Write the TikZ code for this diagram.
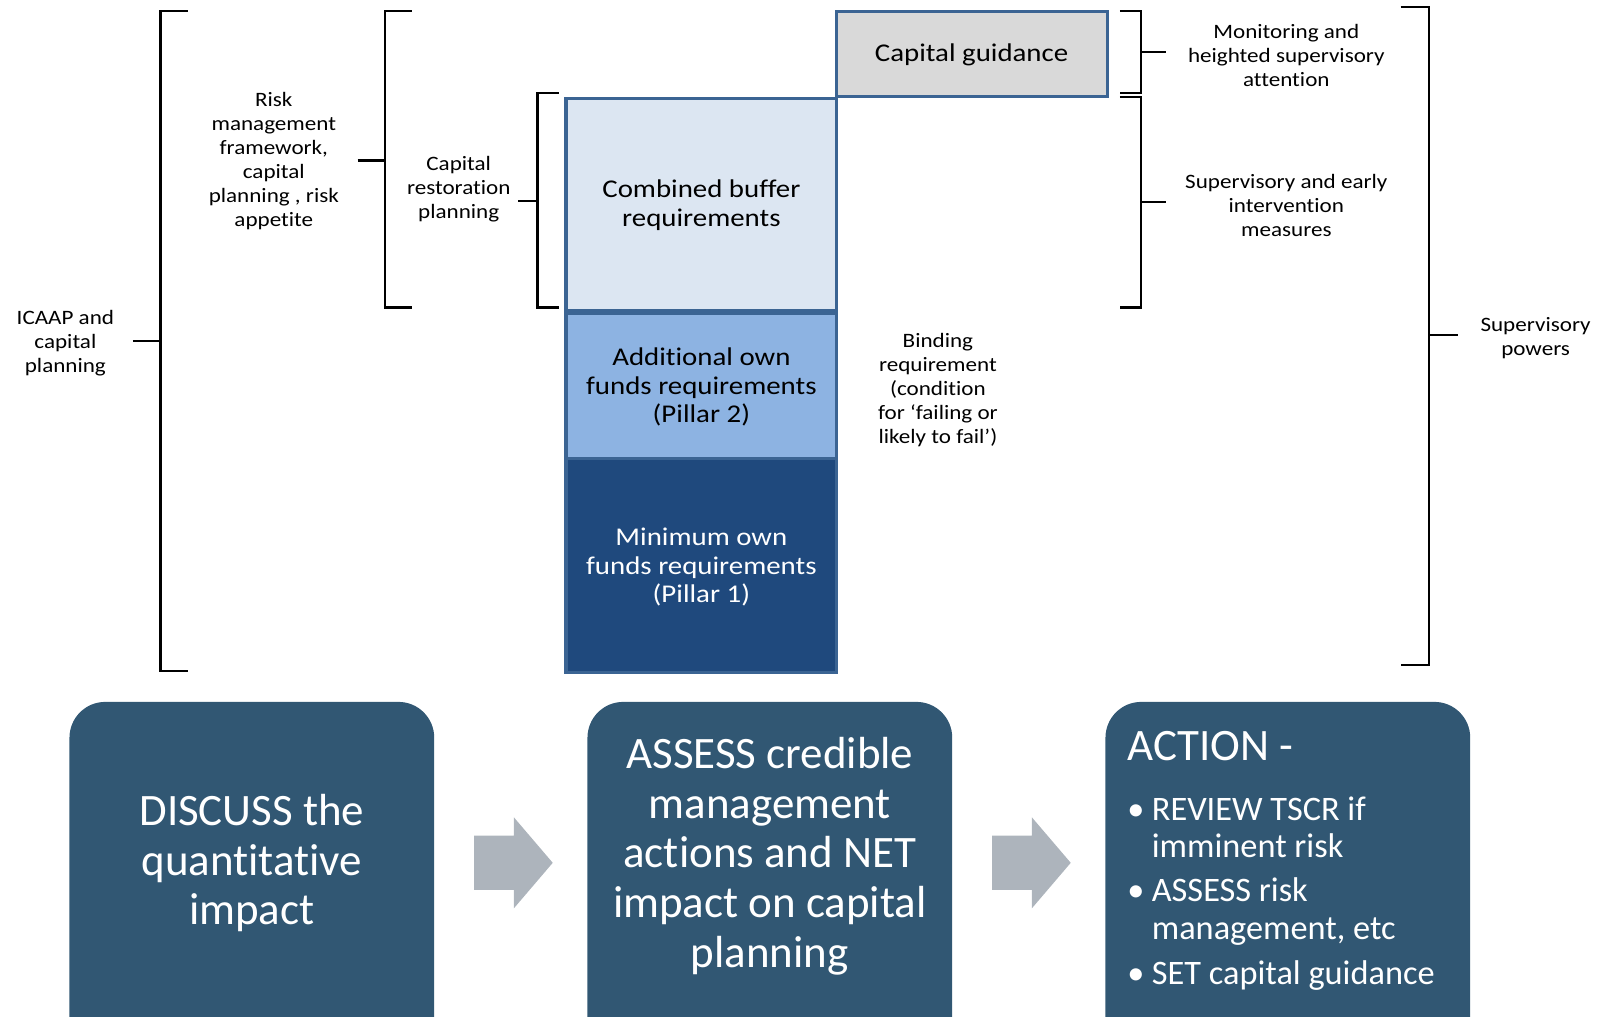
\documentclass[tikz,border=0pt]{standalone}
\usepackage{fontspec}
\setmainfont{Carlito}[Ligatures={NoCommon}]
\newfontfamily\topfont[FakeStretch=1.13,Ligatures={NoCommon}]{Carlito}
\definecolor{boxblue}{HTML}{315773}
\definecolor{arrowgray}{HTML}{ADB4BC}
\definecolor{colborder}{HTML}{3B6493}
\definecolor{cbfill}{HTML}{DCE6F2}
\definecolor{aofill}{HTML}{8DB3E2}
\definecolor{mofill}{HTML}{1F497D}
\definecolor{cgfill}{HTML}{D9D9D9}
\begin{document}
\begin{tikzpicture}[x=0.5pt,y=-0.5pt,
  brk/.style={line width=1.1pt, black},
  colline/.style={draw=colborder, line width=1.5pt},
  lbl/.style={font=\topfont\fontsize{10}{11.75}\selectfont, align=center, inner sep=0pt},
  boxtxt/.style={font=\topfont\fontsize{12.5}{14}\selectfont, align=center, inner sep=0pt},
  bigbox/.style={fill=boxblue, draw=none, rounded corners=17.5pt},
  bigtxt/.style={font=\fontsize{22}{24.25}\selectfont, text=white, align=center, inner sep=0pt},
  acttxt/.style={font=\fontsize{16.8}{18}\selectfont, text=white, anchor=base west, inner sep=0pt},
  blockarrow/.style={fill=arrowgray, draw=none}
]
\clip (0,0) rectangle (1568,995);

% ---- left brackets ----
\draw[brk] (184,11) -- (157,11) -- (157,657) -- (184,657);
\draw[brk] (130,334) -- (157,334);
\node[lbl] (icaap) at (64,336) {ICAAP and\\capital\\planning};

\draw[brk] (403,11) -- (377,11) -- (377,301) -- (403,301);
\draw[brk] (350,157) -- (377,157);
\node[lbl] (riskfw) at (268,158) {Risk\\management\\framework,\\capital\\planning , risk\\appetite};

\draw[brk] (547,91) -- (526,91) -- (526,301) -- (547,301);
\draw[brk] (507,197) -- (526,197);
\node[lbl] (caprest) at (449,185) {Capital\\restoration\\planning};

% ---- capital column ----
\draw[colline, fill=cbfill] (554,96) rectangle (819,304);
\node[boxtxt] (cbt) at (686.5,201) {Combined buffer\\requirements};
\draw[colline, fill=aofill] (554,307) rectangle (819,449);
\node[boxtxt] (aot) at (686.5,379) {Additional own\\funds requirements\\(Pillar 2)};
\draw[colline, fill=mofill] (554,449) rectangle (819,658);
\node[boxtxt, text=white] (mot) at (686.5,555) {Minimum own\\funds requirements\\(Pillar 1)};
\draw[colline, fill=cgfill] (819,11) rectangle (1084,94);
\node[boxtxt] (cgt) at (951,54) {Capital guidance};

\node[lbl] (bind) at (918,382) {Binding\\requirement\\(condition\\for ‘failing or\\likely to fail’)};

% ---- right brackets ----
\draw[brk] (1096,11) -- (1117,11) -- (1117,91) -- (1096,91);
\draw[brk] (1117,51) -- (1141,51);
\node[lbl] (monit) at (1259,54) {Monitoring and\\heighted supervisory\\attention};

\draw[brk] (1096,95) -- (1117,95) -- (1117,301) -- (1096,301);
\draw[brk] (1117,198) -- (1141,198);
\node[lbl] (supearly) at (1259,201) {Supervisory and early\\intervention\\measures};

\draw[brk] (1371,7) -- (1399,7) -- (1399,651) -- (1371,651);
\draw[brk] (1399,328) -- (1427,328);
\node[lbl] (suppow) at (1503,331) {Supervisory\\powers};

% ---- bottom process ----
\draw[bigbox] (68,687) rectangle (425,1030);
\node[bigtxt] (disc) at (246.5,845) {DISCUSS the\\quantitative\\impact};

\draw[bigbox] (575,687) rectangle (932,1030);
\node[bigtxt] (assess) at (753.5,838) {ASSESS credible\\management\\actions and NET\\impact on capital\\planning};

\draw[bigbox] (1082,687) rectangle (1439,1030);
\node[font=\fontsize{22}{24.25}\selectfont, text=white, anchor=base west, inner sep=0pt] (action) at (1103,744) {ACTION -};
\node[acttxt] (b1) at (1103,802.6) {•};
\node[acttxt] (r1) at (1127,802.6) {REVIEW TSCR if};
\node[acttxt] (r2) at (1127,839.5) {imminent risk};
\node[acttxt] (b2) at (1103,882.5) {•};
\node[acttxt] (r3) at (1127,882.5) {ASSESS risk};
\node[acttxt] (r4) at (1127,920) {management, etc};
\node[acttxt] (b3) at (1103,964) {•};
\node[acttxt] (r5) at (1127,964) {SET capital guidance};

\fill[blockarrow] (464,818) -- (503,818) -- (503,800) -- (541,844.5) -- (503,889) -- (503,871) -- (464,871) -- cycle;
\fill[blockarrow] (971,818) -- (1010,818) -- (1010,800) -- (1048,844.5) -- (1010,889) -- (1010,871) -- (971,871) -- cycle;
\end{tikzpicture}
\end{document}
